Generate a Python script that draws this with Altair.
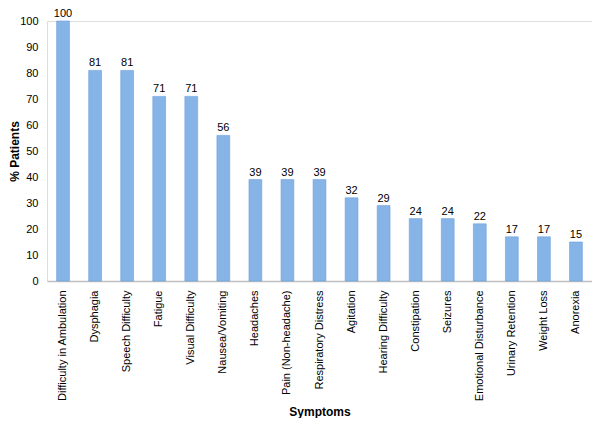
import altair as alt
import pandas as pd

symptoms = [
    "Difficulty in Ambulation", "Dysphagia", "Speech Difficulty", "Fatigue",
    "Visual Difficulty", "Nausea/Vomiting", "Headaches", "Pain (Non-headache)",
    "Respiratory Distress", "Agitation", "Hearing Difficulty", "Constipation",
    "Seizures", "Emotional Disturbance", "Urinary Retention", "Weight Loss",
    "Anorexia",
]
percent = [100, 81, 81, 71, 71, 56, 39, 39, 39, 32, 29, 24, 24, 22, 17, 17, 15]
y_ticks = [0, 10, 20, 30, 40, 50, 60, 70, 80, 90, 100]

df = pd.DataFrame({"Symptom": symptoms, "Pct": percent})

FONT = "Liberation Sans"

x = alt.X(
    "Symptom:N",
    sort=symptoms,
    title="Symptoms",
    scale=alt.Scale(paddingInner=0.6, paddingOuter=0.3),
    axis=alt.Axis(
        labelAngle=-90, labelFontSize=11, labelColor="#000000", labelFont=FONT,
        ticks=False, domainColor="#bfbfbf", domainWidth=1.5, labelPadding=9,
        titleFont=FONT, titleFontSize=12, titleFontWeight="bold", titleColor="#000000",
        titlePadding=5, labelLimit=200,
    ),
)
y = alt.Y(
    "Pct:Q",
    title="% Patients",
    scale=alt.Scale(domain=[0, 100], nice=False),
    axis=alt.Axis(
        values=y_ticks, grid=False, domain=False, ticks=False,
        labelOverlap=False,
        labelFontSize=11, labelColor="#000000", labelFont=FONT, labelPadding=9,
        titleFont=FONT, titleFontSize=12, titleFontWeight="bold", titleColor="#000000",
        titlePadding=-2,
    ),
)

base = alt.Chart(df).encode(x=x, y=y)
bars = base.mark_bar(color="#86b4e6", stroke="#6aa0dc", strokeWidth=0.6)
labels = base.mark_text(dy=-7, fontSize=11, font=FONT, color="#000000").encode(text="Pct:Q")

chart = (
    alt.layer(bars, labels)
    .properties(
        width=584, height=410, padding=0,
        autosize=alt.AutoSizeParams(type="fit", contains="padding"),
    )
    .configure_view(stroke=None)
    .configure(background="#ffffff")
)

chart.save("out.html", embed_options={"renderer": "svg", "actions": False})
